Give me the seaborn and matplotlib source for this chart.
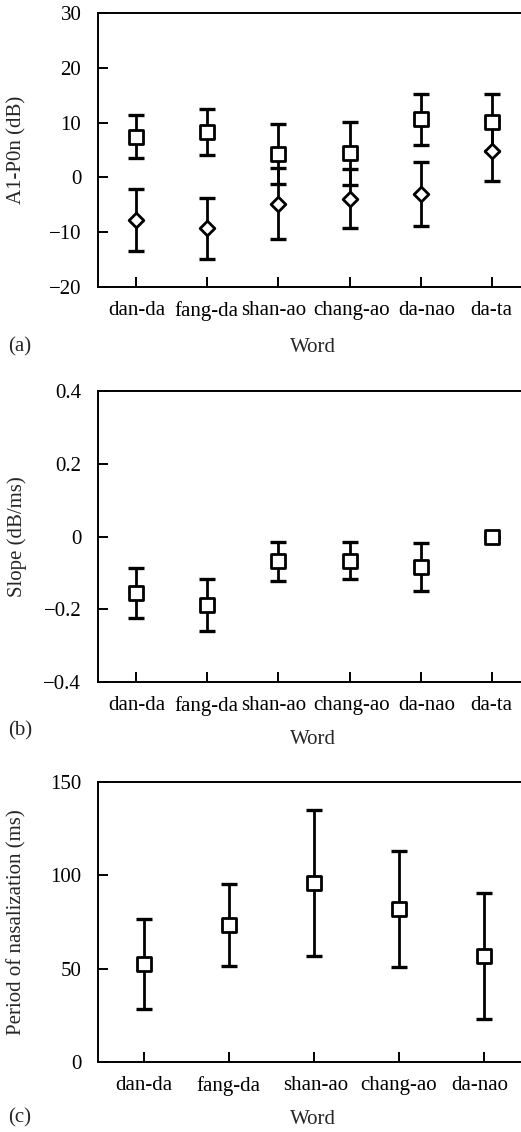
import numpy as np
import pandas as pd
import matplotlib
matplotlib.use("Agg")
import matplotlib.pyplot as plt
import matplotlib.transforms as mtransforms
import seaborn as sns

# ---- data ----
words_a = ["dan-da", "fang-da", "shan-ao", "chang-ao", "da-nao", "da-ta"]
a1p0n_sq_mean = [7.4, 8.3, 4.3, 4.4, 10.6, 10.1]
a1p0n_sq_sd = [3.9, 4.2, 5.5, 5.7, 4.6, 5.2]
a1p0n_di_mean = [-7.8, -9.3, -4.8, -3.9, -3.0, 4.9]
a1p0n_di_sd = [5.7, 5.6, 6.5, 5.4, 5.9, 5.6]

words_b = ["dan-da", "fang-da", "shan-ao", "chang-ao", "da-nao", "da-ta"]
slope_mean = [-0.155, -0.188, -0.068, -0.066, -0.084, 0.0]
slope_sd = [0.068, 0.071, 0.054, 0.050, 0.065, 0.0]

words_c = ["dan-da", "fang-da", "shan-ao", "chang-ao", "da-nao"]
nasal_mean = [52.5, 73.5, 96.0, 81.8, 56.8]
nasal_sd = [24.0, 22.0, 39.0, 31.0, 33.7]

yticks_a = [-20, -10, 0, 10, 20, 30]
ytick_labels_a = ["\u221220", "\u221210", "0", "10", "20", "30"]
yticks_b = [-0.4, -0.2, 0.0, 0.2, 0.4]
ytick_labels_b = ["\u22120.4", "\u22120.2", "0", "0.2", "0.4"]
yticks_c = [0, 50, 100, 150]
ytick_labels_c = ["0", "50", "100", "150"]

# horizontal nudges (pixels) that keep the crowded word labels apart
label_shift_six = [0, -1.5, -5, 2, 6, 0]
label_shift_five = [0, -1, 2, 0, -4]

# ---- style ----
FS = 15
sns.set_style("ticks")
plt.rcParams["font.family"] = ["Liberation Serif", "DejaVu Serif"]
plt.rcParams["font.size"] = FS
plt.rcParams["axes.linewidth"] = 1.4
plt.rcParams["axes.unicode_minus"] = True

fig = plt.figure(figsize=(5.21, 11.32), dpi=100)
W, H = 521, 1132
LEFT, RIGHT = 98, 530


def place(top_px, bottom_px):
    return fig.add_axes([LEFT / W, 1 - bottom_px / H,
                         (RIGHT - LEFT) / W, (bottom_px - top_px) / H])


def draw_series(ax, words, mean, sd, marker, ms):
    ax.errorbar(words, mean, yerr=sd, fmt="none", ecolor="black",
                elinewidth=2.0, capsize=5.5, capthick=2.4, zorder=2)
    df = pd.DataFrame({"word": words, "value": mean})
    sns.scatterplot(data=df, x="word", y="value", marker=marker, s=ms ** 2,
                    facecolor="white", edgecolor="black", linewidth=2.0,
                    zorder=3, ax=ax, legend=False)


def finish(ax, n, yticks, ylabels, ylabel, tag, top_px, bottom_px, word_px,
           tag_px, shifts):
    h = bottom_px - top_px
    ax.set_xlim(-0.54, n - 1 + 0.54)
    ax.set_ylim(yticks[0], yticks[-1])
    ax.set_yticks(yticks)
    ax.set_yticklabels(ylabels)
    ax.tick_params(direction="in", length=7, width=1.4,
                   labelsize=FS, colors="black")
    ax.tick_params(axis="y", pad=12)
    ax.tick_params(axis="x", pad=10)
    for lab, dx in zip(ax.get_xticklabels(), shifts):
        lab.set_transform(lab.get_transform() +
                          mtransforms.ScaledTranslation(dx / 100, 0,
                                                        fig.dpi_scale_trans))
    ax.set_xlabel("Word", fontsize=FS, va="center")
    ax.xaxis.set_label_coords(0.5 - (LEFT + (RIGHT - LEFT) / 2 - 313) / (RIGHT - LEFT),
                              -(word_px - bottom_px) / h)
    ax.set_ylabel(ylabel, fontsize=FS, va="center")
    ax.yaxis.set_label_coords(-(LEFT - 17) / (RIGHT - LEFT), 0.5)
    for s in ax.spines.values():
        s.set_visible(True)
        s.set_color("black")
    fig.text(8 / W, 1 - tag_px / H, tag, fontsize=FS, va="center", ha="left")


# (a) A1-P0n
ax_a = place(13, 287)
draw_series(ax_a, words_a, a1p0n_sq_mean, a1p0n_sq_sd, "s", 10)
draw_series(ax_a, words_a, a1p0n_di_mean, a1p0n_di_sd, "D", 7.5)
finish(ax_a, len(words_a), yticks_a, ytick_labels_a, "A1-P0n (dB)", "(a)",
       13, 287, 348, 347, label_shift_six)

# (b) slope
ax_b = place(391, 682)
draw_series(ax_b, words_b, slope_mean, slope_sd, "s", 10)
finish(ax_b, len(words_b), yticks_b, ytick_labels_b, "Slope (dB/ms)", "(b)",
       391, 682, 740, 731, label_shift_six)

# (c) period of nasalization
ax_c = place(782, 1062)
draw_series(ax_c, words_c, nasal_mean, nasal_sd, "s", 10)
finish(ax_c, len(words_c), yticks_c, ytick_labels_c,
       "Period of nasalization (ms)", "(c)", 782, 1062, 1120, 1118,
       label_shift_five)

fig.savefig("out.png", dpi=100)
